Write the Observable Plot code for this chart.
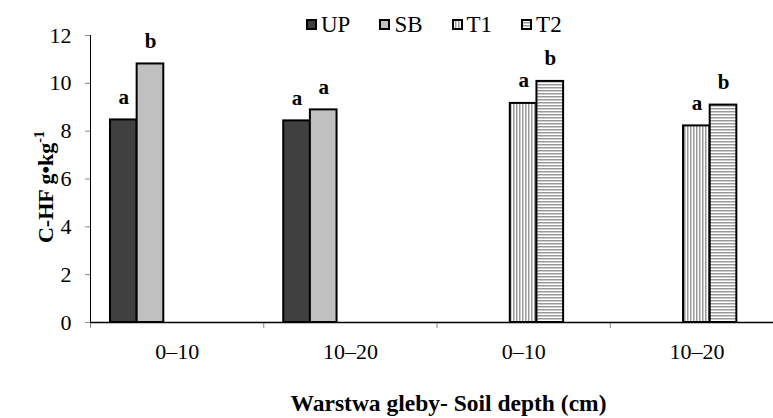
<!DOCTYPE html>
<html><head><meta charset="utf-8">
<script src="https://cdn.jsdelivr.net/npm/d3@7"></script>
<script src="https://cdn.jsdelivr.net/npm/@observablehq/plot@0.6"></script>
<style>
html,body{margin:0;padding:0;background:#fff;overflow:hidden;}
#wrap{position:relative;width:773px;height:418px;font-family:"Liberation Serif","Times New Roman",serif;color:#000;}
#wrap svg text{font-family:"Liberation Serif","Times New Roman",serif;}
#legend{position:absolute;left:306px;top:13px;display:flex;gap:29px;font-size:23px;line-height:23px;white-space:nowrap;}
.item{display:flex;align-items:center;}
.sw{display:block;margin-right:4px;}
#ylab{position:absolute;left:46px;top:187px;transform:translate(-50%,-50%) rotate(-90deg);font-weight:bold;font-size:22px;line-height:22px;white-space:nowrap;}
#ylab sup{font-size:14px;line-height:0;vertical-align:9px;}
</style></head>
<body>
<svg width="0" height="0" style="position:absolute">
  <defs>
    <pattern id="vstripe" patternUnits="userSpaceOnUse" width="3" height="3">
      <rect width="3" height="3" fill="#fff"/>
      <rect x="0" width="1.5" height="3" fill="#999"/>
    </pattern>
    <pattern id="hstripe" patternUnits="userSpaceOnUse" width="3" height="3">
      <rect width="3" height="3" fill="#fff"/>
      <rect y="0" width="3" height="1.5" fill="#999"/>
    </pattern>
  </defs>
</svg>
<div id="wrap"></div>
<script>
// ---- data ----
const groups = ["0–10", "10–20", "0–10", "10–20"];
const seriesNames = ["UP", "SB", "T1", "T2"];
const UP = [8.47, 8.43, null, null];
const SB = [10.81, 8.89, null, null];
const T1 = [null, null, 9.16, 8.22];
const T2 = [null, null, 10.08, 9.09];
const UPsig = ["a", "a", null, null];
const SBsig = ["b", "a", null, null];
const T1sig = [null, null, "a", "a"];
const T2sig = [null, null, "b", "b"];
const yTicks = [0, 2, 4, 6, 8, 10, 12];
const yLabel = "C-HF g•kg";
const yLabelSup = "-1";
const xLabel = "Warstwa gleby- Soil depth (cm)";

const fills = {UP: "#404040", SB: "#c0c0c0", T1: "url(#vstripe)", T2: "url(#hstripe)"};
const values = {UP, SB, T1, T2};
const sigs = {UP: UPsig, SB: SBsig, T1: T1sig, T2: T2sig};

// layout within a group: 5 slots (4 series + 1 empty) with outer padding
const padOuter = 0.75, slots = 6.5;
const rows = [];
seriesNames.forEach((s, si) => {
  values[s].forEach((v, gi) => {
    if (v == null) return;
    const x1 = gi + (padOuter + si) / slots;
    const x2 = gi + (padOuter + si + 1) / slots;
    rows.push({series: s, group: gi, value: v, sig: sigs[s][gi], x1, x2, xc: (x1 + x2) / 2});
  });
});

const serif = "'Liberation Serif', 'Times New Roman', serif";
const plot = Plot.plot({
  width: 773,
  height: 418,
  marginLeft: 90,
  marginRight: 0,
  marginTop: 35,
  marginBottom: 96,
  style: {fontFamily: serif, background: "transparent", color: "#000"},
  x: {domain: [0, groups.length], range: [90, 90 + 173.25 * groups.length]},
  y: {domain: [0, 12]},
  marks: [
    Plot.axisY({ticks: yTicks, tickSize: 5, tickPadding: 14, fontSize: 22, stroke: "#888", fill: "#000", label: null}),
    Plot.axisX({ticks: d3.range(groups.length + 1), tickSize: 6, tickFormat: () => "", stroke: "#888", label: null}),
    Plot.axisX({ticks: groups.map((g, i) => i + 0.5), tickSize: 0, tickPadding: 21, fontSize: 22, fill: "#000",
      tickFormat: d => groups[Math.floor(d)], label: null}),
    ...seriesNames.map(s => Plot.rectY(rows.filter(r => r.series === s), {
      x1: "x1", x2: "x2", y1: 0, y2: "value", fill: fills[s], stroke: "#000", strokeWidth: 2
    })),
    Plot.ruleX([0], {y1: 0, y2: yTicks[yTicks.length - 1], stroke: "#000", strokeWidth: 1}),
    Plot.ruleY([0], {stroke: "#000", strokeWidth: 1.5}),
    Plot.text(rows, {x: "xc", y: "value", text: "sig", dy: -16, lineAnchor: "bottom", fontWeight: "bold", fontSize: 21, fill: "#000"}),
    Plot.text([xLabel], {frameAnchor: "bottom", dx: 16.5, dy: 88, lineAnchor: "bottom", fontWeight: "bold", fontSize: 23.5, fill: "#000"})
  ]
});

const wrap = document.getElementById("wrap");
wrap.appendChild(plot);

// legend
const legend = document.createElement("div");
legend.id = "legend";
seriesNames.forEach(s => {
  const item = document.createElement("div");
  item.className = "item";
  item.innerHTML = `<svg class="sw" width="11" height="11"><rect x="1" y="1" width="9" height="9" fill="${fills[s]}" stroke="#000" stroke-width="2"/></svg><span>${s}</span>`;
  legend.appendChild(item);
});
wrap.appendChild(legend);

// y axis label
const yl = document.createElement("div");
yl.id = "ylab";
yl.innerHTML = `${yLabel}<sup>${yLabelSup}</sup>`;
wrap.appendChild(yl);
</script>
</body></html>
